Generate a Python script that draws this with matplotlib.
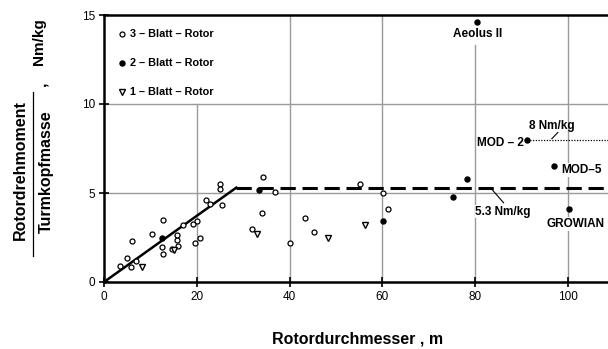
import matplotlib
matplotlib.use("Agg")
import matplotlib.pyplot as plt

plt.rcParams['font.family'] = ['Liberation Sans', 'DejaVu Sans']

# --- data ---
three_x = [3.4, 4.9, 5.8, 7.0, 6.0, 10.4, 12.8, 12.4, 12.8, 14.6, 15.7, 16.0, 15.7, 17.1,
           19.2, 20.0, 19.6, 20.7, 22.0, 22.8, 25.0, 25.0, 25.4, 34.3, 36.9, 34.0, 31.8,
           40.1, 43.3, 45.3, 55.2, 60.2, 61.3]
three_y = [0.92, 1.33, 0.86, 1.18, 2.3, 2.7, 3.5, 1.95, 1.6, 1.85, 2.36, 2.0, 2.64, 3.2,
           3.24, 3.4, 2.2, 2.5, 4.6, 4.4, 5.5, 5.2, 4.3, 5.9, 5.07, 3.86, 3.0,
           2.17, 3.58, 2.83, 5.5, 4.98, 4.08]
two_x = [12.6, 33.3, 60.2, 75.1, 78.2, 80.3, 91.2, 97.0, 100.1]
two_y = [2.45, 5.17, 3.43, 4.8, 5.79, 14.6, 8.0, 6.5, 4.08]
one_x = [8.1, 15.0, 32.9, 48.3, 56.3]
one_y = [0.86, 1.8, 2.7, 2.5, 3.2]

trend_x = [0, 28.5]
trend_y = [0, 5.3]
plateau = 5.3
mod2_level = 8.0

x_ticks = [0, 20, 40, 60, 80, 100]
y_ticks = [0, 5, 10, 15]
legend_labels = ['3 \u2013 Blatt \u2013 Rotor', '2 \u2013 Blatt \u2013 Rotor', '1 \u2013 Blatt \u2013 Rotor']

W, H = 608, 349
fig = plt.figure(figsize=(W / 100, H / 100), dpi=100)
ax = fig.add_axes([104 / W, 1 - 282 / H, (W - 104) / W, (282 - 15) / H])
XMAX = 108.6
ax.set_xlim(0, XMAX)
ax.set_ylim(0, 15)

gc = '#9a9a9a'
glw = 1.0
# grid lines
ax.plot([0, XMAX], [5, 5], color=gc, lw=glw, zorder=1)
ax.plot([0, XMAX], [10, 10], color=gc, lw=glw, zorder=1)
ax.plot([20, 20], [0, 10], color=gc, lw=glw, zorder=1)
ax.plot([40, 40], [0, 15], color=gc, lw=glw, zorder=1)
ax.plot([60, 60], [0, 15], color=gc, lw=glw, zorder=1)
ax.plot([80, 80], [0, 13.3], color=gc, lw=glw, zorder=1)
ax.plot([100, 100], [0, 15], color=gc, lw=glw, zorder=1)

for s in ['right']:
    ax.spines[s].set_visible(False)
for s in ['left', 'bottom', 'top']:
    ax.spines[s].set_linewidth(1.8)

ax.set_xticks(x_ticks)
ax.set_yticks(y_ticks)
ax.tick_params(direction='inout', length=7, width=1.2, labelsize=8.5, pad=3)

# trend lines
ax.plot(trend_x, trend_y, color='black', lw=1.8, zorder=3)
ax.plot([trend_x[1], XMAX], [plateau, plateau], color='black', lw=2.2,
        dashes=(5, 2.2), zorder=3)
ax.plot([two_x[6], XMAX], [mod2_level, mod2_level], color='black', lw=0.9,
        ls=(0, (1, 1.2)), zorder=3)

ms = 3.6
ax.plot(three_x, three_y, 'o', ms=ms, mfc='white', mec='black', mew=0.9, zorder=4)
ax.plot(two_x, two_y, 'o', ms=ms, mfc='black', mec='black', zorder=4)
ax.plot(one_x, one_y, 'v', ms=4.5, mfc='white', mec='black', mew=1.0, zorder=4)

# legend
lx, tx = 3.8, 5.6
ly = [13.93, 12.3, 10.67]
ax.plot([lx], [ly[0]], 'o', ms=ms, mfc='white', mec='black', mew=0.9)
ax.plot([lx], [ly[1]], 'o', ms=ms, mfc='black', mec='black')
ax.plot([lx], [ly[2]], 'v', ms=4.5, mfc='white', mec='black', mew=1.0)
for y, lab in zip(ly, legend_labels):
    ax.text(tx, y, lab, fontsize=7.8, fontweight='bold', va='center', ha='left')

bb = dict(facecolor='white', edgecolor='none', pad=0.5)
fs = 8.5
ax.text(80.5, 13.95, 'Aeolus II', fontsize=fs, fontweight='bold', ha='center', va='center', bbox=bb, zorder=5)
ax.text(90.4, 7.83, 'MOD \u2013 2', fontsize=fs, fontweight='bold', ha='right', va='center', zorder=5)
ax.text(91.6, 8.75, '8 Nm/kg', fontsize=fs, fontweight='bold', ha='left', va='center', zorder=5)
ax.plot([97.8, 96.5], [8.4, 8.05], color='black', lw=0.8, zorder=5)
ax.text(98.6, 6.3, 'MOD\u20135', fontsize=fs, fontweight='bold', ha='left', va='center',
        bbox=bb, zorder=5, clip_on=False)
ax.text(95.4, 3.26, 'GROWIAN', fontsize=fs, fontweight='bold', ha='left', va='center',
        bbox=bb, zorder=5, clip_on=False)
ax.text(80.0, 3.95, '5.3 Nm/kg', fontsize=fs, fontweight='bold', ha='left', va='center',
        bbox=bb, zorder=5)
ax.plot([83.6, 86.1], [5.2, 4.45], color='black', lw=0.8, zorder=5)

# axis labels
lfs = 11.5
fig.text(358 / W, 1 - 339 / H, 'Rotordurchmesser , m', fontsize=lfs, fontweight='bold',
         ha='center', va='center')
fig.text(20 / W, 1 - 170 / H, 'Rotordrehmoment', fontsize=lfs, fontweight='bold',
         rotation=90, ha='center', va='center')
fig.text(46 / W, 1 - 172 / H, 'Turmkopfmasse', fontsize=lfs, fontweight='bold',
         rotation=90, ha='center', va='center')
fig.add_artist(plt.Line2D([33 / W, 33 / W], [1 - 256 / H, 1 - 92 / H], color='black', lw=0.9))
fig.text(41 / W, 1 - 84 / H, ',', fontsize=lfs, fontweight='bold', rotation=90,
         ha='center', va='center')
fig.text(39 / W, 1 - 42 / H, 'Nm/kg', fontsize=11, fontweight='bold',
         rotation=90, ha='center', va='center')

fig.savefig('out.png', dpi=100)
